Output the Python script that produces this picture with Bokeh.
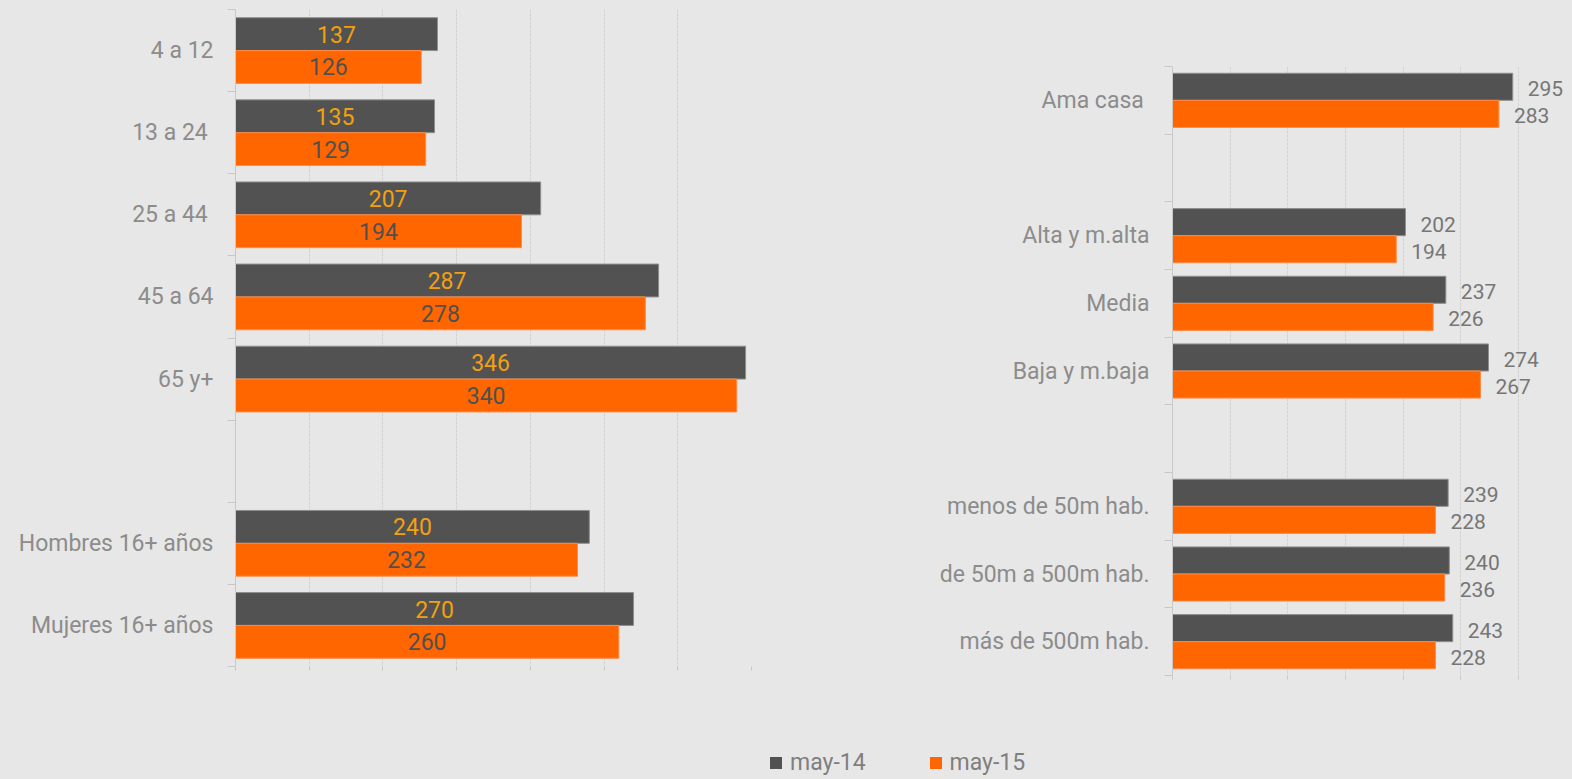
from bokeh.plotting import figure
from bokeh.layouts import column, row
from bokeh.models import Range1d, FixedTicker, Legend, LegendItem, ColumnDataSource
from bokeh.core.properties import value
from bokeh.embed import file_html
from bokeh.resources import INLINE

# ---------------- data ----------------
series_names = ["may-14", "may-15"]

left_categories = ["4 a 12", "13 a 24 ", "25 a 44 ", "45 a 64", "65 y+", "",
                   "Hombres 16+ años", "Mujeres 16+ años"]
left_may14 = [137, 135, 207, 287, 346, None, 240, 270]
left_may15 = [126, 129, 194, 278, 340, None, 232, 260]
left_ticks = [0, 50, 100, 150, 200, 250, 300, 350]

right_categories = ["Ama casa ", "", "Alta y m.alta", "Media", "Baja y m.baja", "",
                    "menos de 50m hab.", "de 50m a 500m hab.", "más de 500m hab."]
right_may14 = [295, None, 202, 237, 274, None, 239, 240, 243]
right_may15 = [283, None, 194, 226, 267, None, 228, 236, 228]
right_ticks = [0, 50, 100, 150, 200, 250, 300]

# ---------------- style ----------------
BG = "#E7E7E7"
DARK = "#525252"
ORANGE = "#FF6600"
AMBER = "#F2A010"
AXIS_C = "#C8C8C8"
GRID_C = "#D2D2D2"
LABEL_C = "#8C8C8C"
FONT = "Roboto"


def make_source(v14, v15):
    idx = [i for i, v in enumerate(v14) if v is not None]
    return ColumnDataSource(dict(
        y14=[i - 0.2 for i in idx],
        y15=[i + 0.2 for i in idx],
        v14=[v14[i] for i in idx],
        v15=[v15[i] for i in idx],
        m14=[v14[i] / 2 for i in idx],
        m15=[v15[i] / 2 for i in idx],
        t14=[str(v14[i]) for i in idx],
        t15=[str(v15[i]) for i in idx],
    ))


def make_panel(categories, src, ticks, x_end, width, height,
               b_left, b_right, b_top, b_bottom, inside, standoff):
    n = len(categories)
    p = figure(width=width, height=height, output_backend="svg", toolbar_location=None,
               x_range=Range1d(0, x_end), y_range=Range1d(n - 0.5, -0.5),
               min_border_left=b_left, min_border_right=b_right,
               min_border_top=b_top, min_border_bottom=b_bottom,
               background_fill_color=BG, border_fill_color=BG, outline_line_color=None)

    p.hbar(y="y14", left=0, right="v14", height=0.4, source=src,
           fill_color=DARK, line_color="#8F8F8F", line_width=1)
    p.hbar(y="y15", left=0, right="v15", height=0.4, source=src,
           fill_color=ORANGE, line_color="#FF8A45", line_width=1)

    if inside:
        p.text(x="m14", y="y14", text="t14", source=src, text_align="center",
               text_baseline="middle", text_font=value(FONT), text_font_size="23px",
               text_color=AMBER)
        p.text(x="m15", y="y15", text="t15", source=src, text_align="center",
               text_baseline="middle", text_font=value(FONT), text_font_size="23px",
               text_color="#505050")
    else:
        for key_x, key_y, key_t in (("v14", "y14", "t14"), ("v15", "y15", "t15")):
            p.text(x=key_x, y=key_y, text=key_t, source=src, text_align="left",
                   text_baseline="middle", x_offset=15, y_offset=2,
                   text_font=value(FONT), text_font_size="21px", text_color="#767676")

    # x axis: ticks only
    p.xaxis.ticker = FixedTicker(ticks=ticks)
    p.xaxis.major_label_overrides = {t: "" for t in ticks}
    p.xaxis.axis_line_color = None
    p.xaxis.major_tick_line_color = AXIS_C
    p.xaxis.major_tick_out = 4
    p.xaxis.major_tick_in = 0
    p.xaxis.minor_tick_line_color = None

    # y axis: labels at centers, ticks at boundaries
    p.yaxis.ticker = FixedTicker(ticks=list(range(n)),
                                 minor_ticks=[i - 0.5 for i in range(n + 1)])
    p.yaxis.major_label_overrides = {i: c for i, c in enumerate(categories)}
    p.yaxis.axis_line_color = AXIS_C
    p.yaxis.major_tick_out = 0
    p.yaxis.major_tick_in = 0
    p.yaxis.major_tick_line_color = None
    p.yaxis.minor_tick_out = 8
    p.yaxis.minor_tick_in = 0
    p.yaxis.minor_tick_line_color = AXIS_C
    p.yaxis.major_label_standoff = standoff
    p.yaxis.major_label_text_font = FONT
    p.yaxis.major_label_text_font_size = "23px"
    p.yaxis.major_label_text_color = LABEL_C

    p.xgrid.ticker = FixedTicker(ticks=ticks)
    p.xgrid.grid_line_color = GRID_C
    p.xgrid.grid_line_dash = "3 1"
    p.ygrid.grid_line_color = None
    return p


left_src = make_source(left_may14, left_may15)
right_src = make_source(right_may14, right_may15)

left = make_panel(left_categories, left_src, left_ticks, 350,
                  868, 710, 235, 117, 9, 44, True, 14)
right = make_panel(right_categories, right_src, right_ticks,
                   300 * 400 / 346, 704, 710, 304, 0, 66, 35, False, 15)

# legend panel (bars drawn outside its visible x range; only the legend shows)
leg = figure(width=1572, height=69, output_backend="svg", toolbar_location=None,
             x_range=Range1d(-2, -1), y_range=Range1d(0, 1),
             min_border_left=0, min_border_right=0, min_border_top=0, min_border_bottom=0,
             background_fill_color=BG, border_fill_color=BG, outline_line_color=None)
leg.axis.visible = False
leg.grid.grid_line_color = None
r1 = leg.hbar(y="y14", left=0, right="v14", height=0.4, source=left_src,
              fill_color=DARK, line_color=None)
r2 = leg.hbar(y="y15", left=0, right="v15", height=0.4, source=left_src,
              fill_color=ORANGE, line_color=None)
legend = Legend(items=[LegendItem(label=series_names[0], renderers=[r1]),
                       LegendItem(label=series_names[1], renderers=[r2])],
                orientation="horizontal", location=(768, 3),
                padding=0, margin=0, spacing=62, label_standoff=7,
                glyph_width=15, glyph_height=15,
                label_text_font=FONT, label_text_font_size="23px",
                label_text_color="#7F7F7F",
                background_fill_alpha=0, border_line_color=None)
leg.add_layout(legend)

layout = column(row(column(left), column(right)), leg)

html = file_html(layout, INLINE)
html = html.replace("</head>", "<style>body{background-color:#E7E7E7;}</style></head>", 1)
open("out.html", "w").write(html)
